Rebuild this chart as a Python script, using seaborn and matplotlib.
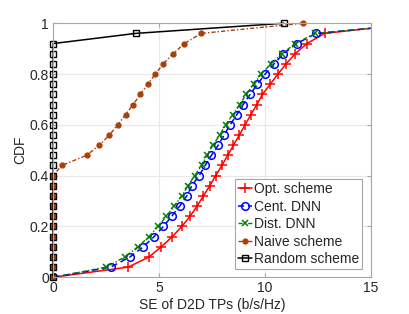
import numpy as np
import pandas as pd
import seaborn as sns
import matplotlib
matplotlib.use('Agg')
import matplotlib.pyplot as plt

# CDF levels used by the three learning curves (last one is the tail point at x=15)
cdf_levels = [0.00, 0.04, 0.08, 0.12, 0.16, 0.20, 0.24, 0.28, 0.32, 0.36, 0.40, 0.44,
              0.48, 0.52, 0.56, 0.60, 0.64, 0.68, 0.72, 0.76, 0.80, 0.84, 0.88, 0.92,
              0.96, 0.98]

opt_se = [0, 3.55, 4.53, 5.11, 5.63, 6.08, 6.47, 6.80, 7.10, 7.40, 7.68, 7.97, 8.25,
          8.52, 8.80, 9.07, 9.34, 9.63, 9.89, 10.26, 10.62, 11.01, 11.44, 11.99, 12.83, 15]
cent_se = [0, 2.72, 3.63, 4.26, 4.77, 5.21, 5.60, 5.98, 6.31, 6.55, 6.90, 7.18, 7.48,
           7.80, 8.08, 8.36, 8.68, 8.98, 9.31, 9.65, 10.02, 10.44, 10.88, 11.52, 12.42, 15]
dist_se = [0, 2.50, 3.39, 4.00, 4.53, 4.95, 5.35, 5.71, 6.08, 6.37, 6.69, 7.02, 7.26,
           7.55, 7.87, 8.15, 8.49, 8.82, 9.12, 9.48, 9.84, 10.29, 10.81, 11.44, 12.39, 15]

# naive scheme
naive_se = [0, 0, 0, 0, 0, 0, 0, 0, 0, 0, 0,
            0.40, 1.58, 2.18, 2.66, 3.05, 3.42, 3.78, 4.12, 4.47, 4.83, 5.20, 5.67, 6.20, 7.00, 11.8]
naive_cdf = [0.00, 0.04, 0.08, 0.12, 0.16, 0.20, 0.24, 0.28, 0.32, 0.36, 0.40,
             0.44, 0.48, 0.52, 0.56, 0.60, 0.64, 0.68, 0.72, 0.76, 0.80, 0.84, 0.88, 0.92, 0.96, 1.00]

# random scheme
rand_se = [0, 0, 0, 0, 0, 0, 0, 0, 0, 0, 0, 0, 0, 0, 0, 0, 0, 0, 0, 0, 0, 0, 0, 0,
           3.9, 10.9]
rand_cdf = [0.00, 0.04, 0.08, 0.12, 0.16, 0.20, 0.24, 0.28, 0.32, 0.36, 0.40, 0.44,
            0.48, 0.52, 0.56, 0.60, 0.64, 0.68, 0.72, 0.76, 0.80, 0.84, 0.88, 0.92,
            0.96, 1.00]

sns.set_style('whitegrid')
plt.rcParams['font.family'] = ['Liberation Sans', 'DejaVu Sans']

fig = plt.figure(figsize=(4.09, 3.14), dpi=100)
ax = fig.add_axes([0.130, 0.117, 0.776, 0.809])

marks = list(range(25))

ax.plot(opt_se, cdf_levels, color='red', linestyle='-', linewidth=1.1, marker='+',
        markersize=7, markeredgewidth=1.1, markevery=marks, label='Opt. scheme')
ax.plot(cent_se, cdf_levels, color='blue', linestyle=(0, (4, 2.5)), linewidth=1.1,
        marker='o', markersize=5.5, markerfacecolor='none', markeredgecolor='blue',
        markeredgewidth=1.1, markevery=marks, label='Cent. DNN')
ax.plot(dist_se, cdf_levels, color='#008000', linestyle=(0, (3, 1.5, 1, 1.5)), linewidth=1.0,
        marker='x', markersize=4.5, markeredgewidth=1.1, markevery=marks, label='Dist. DNN')
ax.plot(naive_se, naive_cdf, color='#a8400c', linestyle=(0, (3, 1.5, 1, 1.5)), linewidth=1.0,
        marker='o', markersize=3.5, markeredgecolor='#a8400c', clip_on=False,
        label='Naive scheme')
ax.plot(rand_se, rand_cdf, color='black', linestyle='-', linewidth=1.1, marker='s',
        markersize=4.5, markerfacecolor='none', markeredgecolor='black',
        markeredgewidth=1.0, clip_on=False, label='Random scheme')

ax.set_xlim(0, 15)
ax.set_ylim(0, 1)
ax.set_xticks([0, 5, 10, 15])
ax.set_xticklabels(['0', '5', '10', '15'])
ax.set_yticks([0, 0.2, 0.4, 0.6, 0.8, 1])
ax.set_yticklabels(['0', '0.2', '0.4', '0.6', '0.8', '1'])
ax.grid(True, color='#e8e8e8', linewidth=0.8)
for s in ax.spines.values():
    s.set_color('#a6a6a6')
    s.set_linewidth(0.8)
ax.tick_params(direction='in', length=3, color='#a6a6a6', labelsize=10,
               labelcolor='#262626', top=True, right=True, bottom=True, left=True, pad=3)
ax.set_xlabel('SE of D2D TPs (b/s/Hz)', fontsize=10, color='#262626', labelpad=2)
ax.set_ylabel('CDF', fontsize=10, color='#262626', labelpad=2)

leg = ax.legend(loc='lower right', fontsize=10, handlelength=1.0, handletextpad=0.15,
                labelspacing=0.25, borderpad=0.2, borderaxespad=0.6, fancybox=False,
                framealpha=1, edgecolor='#a6a6a6')
leg.get_frame().set_linewidth(0.8)

fig.savefig('out.png', dpi=100)
